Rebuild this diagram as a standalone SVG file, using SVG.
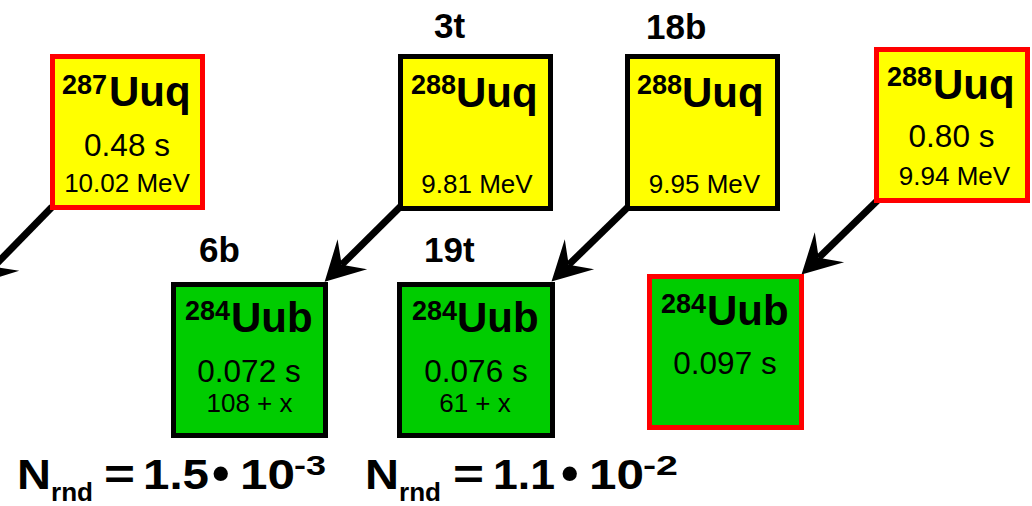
<svg xmlns="http://www.w3.org/2000/svg" width="1032" height="506" viewBox="0 0 1032 506">
  <style>
    text { font-family: "Liberation Sans", Arial, sans-serif; fill: #000; }
    .box { stroke-width: 5; }
    .uuq { fill: #ffff00; }
    .uub { fill: #00cc00; }
    .blk { stroke: #000; }
    .red { stroke: #ff0000; }
    .mass { font-size: 27px; font-weight: bold; }
    .sym { font-size: 42px; font-weight: bold; }
    .life { font-size: 31.5px; text-anchor: middle; }
    .en { font-size: 26px; text-anchor: middle; }
    .tag { font-size: 35px; font-weight: bold; }
    .nr { font-weight: bold; font-size: 42px; }
    .nr.sub { font-size: 25px; }
    .nr.sup { font-size: 28px; }
    .nr.dot { font-size: 50px; }
    .link { stroke: #000; stroke-width: 7; fill: none; marker-end: url(#head); }
  </style>
  <defs>
    <!-- concave arrowhead; its notch sits on the end of the line -->
    <marker id="head" markerUnits="userSpaceOnUse" orient="auto" refX="0" refY="0" markerWidth="60" markerHeight="50" overflow="visible">
      <path d="M24,0 L-15,-21 L0,0 L-15,21 Z" fill="#000"/>
    </marker>
  </defs>

  <!-- decay connectors -->
  <g id="connectors">
    <line class="link" x1="52" y1="207" x2="-6.3" y2="266.8"/>
    <line class="link" x1="401" y1="206" x2="341.7" y2="264.8"/>
    <line class="link" x1="628" y1="207" x2="568.7" y2="264.8"/>
    <line class="link" x1="880" y1="198" x2="818.7" y2="257.8"/>
  </g>

  <g id="uuq287">
    <rect class="box uuq red" x="52.5" y="56.5" width="150" height="151"/>
    <text><tspan class="mass" x="62" y="94">287</tspan><tspan class="sym" x="109" y="106">Uuq</tspan></text>
    <text class="life" x="127" y="156">0.48 s</text>
    <text class="en" x="127" y="192">10.02 MeV</text>
  </g>

  <g id="uuq288a">
    <text class="tag" x="434" y="38">3t</text>
    <rect class="box uuq blk" x="400.5" y="56.5" width="150" height="152"/>
    <text><tspan class="mass" x="411" y="94">288</tspan><tspan class="sym" x="456" y="107">Uuq</tspan></text>
    <text class="en" x="477" y="193">9.81 MeV</text>
  </g>

  <g id="uuq288b">
    <text class="tag" x="646" y="39">18b</text>
    <rect class="box uuq blk" x="627.5" y="56.5" width="150" height="152"/>
    <text><tspan class="mass" x="637" y="94">288</tspan><tspan class="sym" x="682" y="107">Uuq</tspan></text>
    <text class="en" x="704.5" y="193">9.95 MeV</text>
  </g>

  <g id="uuq288c">
    <rect class="box uuq red" x="876.5" y="49.5" width="151" height="151"/>
    <text><tspan class="mass" x="887" y="86">288</tspan><tspan class="sym" x="933" y="99">Uuq</tspan></text>
    <text class="life" x="951.5" y="147">0.80 s</text>
    <text class="en" x="954.5" y="185">9.94 MeV</text>
  </g>

  <g id="uub284a">
    <text class="tag" x="199" y="262">6b</text>
    <rect class="box uub blk" x="173.5" y="284.5" width="152" height="151"/>
    <text><tspan class="mass" x="185" y="320">284</tspan><tspan class="sym" x="231" y="332">Uub</tspan></text>
    <text class="life" x="249" y="382">0.072 s</text>
    <text class="en" x="249.5" y="412">108 + x</text>
  </g>

  <g id="uub284b">
    <text class="tag" x="424" y="262">19t</text>
    <rect class="box uub blk" x="399.5" y="284.5" width="153" height="151"/>
    <text><tspan class="mass" x="412" y="320">284</tspan><tspan class="sym" x="457" y="332">Uub</tspan></text>
    <text class="life" x="476" y="382">0.076 s</text>
    <text class="en" x="475" y="412">61 + x</text>
  </g>

  <g id="uub284c">
    <rect class="box uub red" x="649.5" y="276.5" width="152" height="151"/>
    <text><tspan class="mass" x="661" y="313">284</tspan><tspan class="sym" x="707" y="325">Uub</tspan></text>
    <text class="life" x="725" y="374">0.097 s</text>
  </g>

  <!-- random-correlation probabilities -->
  <g id="nrnd">
    <text class="nr" x="17" y="489" textLength="34" lengthAdjust="spacingAndGlyphs">N</text>
    <text class="nr sub" x="51" y="501" textLength="42" lengthAdjust="spacingAndGlyphs">rnd</text>
    <text class="nr" x="104" y="489" textLength="31" lengthAdjust="spacingAndGlyphs">=</text>
    <text class="nr" x="143" y="489" textLength="66" lengthAdjust="spacingAndGlyphs">1.5</text>
    <text class="nr dot" x="212" y="490">•</text>
    <text class="nr" x="240" y="489" textLength="55" lengthAdjust="spacingAndGlyphs">10</text>
    <text class="nr sup" x="294" y="475" textLength="32" lengthAdjust="spacingAndGlyphs">-3</text>

    <text class="nr" x="365" y="489" textLength="34" lengthAdjust="spacingAndGlyphs">N</text>
    <text class="nr sub" x="399" y="501" textLength="42" lengthAdjust="spacingAndGlyphs">rnd</text>
    <text class="nr" x="453" y="489" textLength="31" lengthAdjust="spacingAndGlyphs">=</text>
    <text class="nr" x="493" y="489" textLength="62" lengthAdjust="spacingAndGlyphs">1.1</text>
    <text class="nr dot" x="561" y="490">•</text>
    <text class="nr" x="589" y="489" textLength="55" lengthAdjust="spacingAndGlyphs">10</text>
    <text class="nr sup" x="643" y="475" textLength="35" lengthAdjust="spacingAndGlyphs">-2</text>
  </g>
</svg>
